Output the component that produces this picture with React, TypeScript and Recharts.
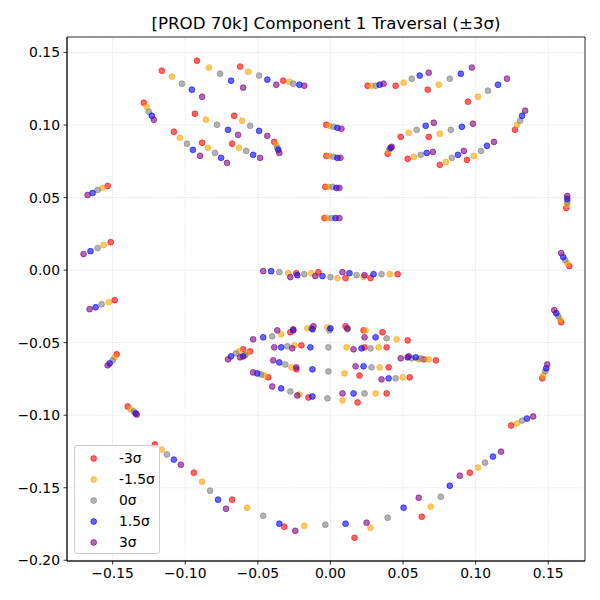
import { ScatterChart, Scatter, XAxis, YAxis, CartesianGrid, Legend, ReferenceArea } from 'recharts'

type Pt = [number, number]

const sigmaLabels = ['-3σ', '-1.5σ', '0σ', '1.5σ', '3σ']
const sigmaColors = ['#ff0000', '#ffa500', '#808080', '#0000ff', '#800080']

const xTicks = [-0.15, -0.1, -0.05, 0, 0.05, 0.1, 0.15]
const yTicks = [-0.2, -0.15, -0.1, -0.05, 0, 0.05, 0.1, 0.15]
const xDomain: [number, number] = [-0.1814, 0.1753]
const yDomain: [number, number] = [-0.2005, 0.1607]

// landmark order: brows, eyes, nose, jaw, mouth
const minus3: Pt[] = [
  [-0.1285, 0.1154], [-0.1161, 0.1375], [-0.0919, 0.1444], [-0.0622, 0.1403], [-0.0325, 0.1306],
  [0.0256, 0.1271], [0.0449, 0.1271], [0.067, 0.1244], [0.0947, 0.1161], [0.1271, 0.0967],
  [-0.1078, 0.0954], [-0.0933, 0.1078], [-0.0663, 0.1064], [-0.0387, 0.0884], [-0.0677, 0.0871], [-0.0884, 0.0878],
  [0.0394, 0.0802], [0.0484, 0.0919], [0.0677, 0.0919], [0.094, 0.076], [0.0753, 0.0726], [0.0532, 0.0767],
  [-0.0028, 0.1002], [-0.0028, 0.0788], [-0.0035, 0.0574], [-0.0041, 0.0359],
  [-0.0235, -0.0021], [-0.0083, -0.0014], [0.0104, -0.0055], [0.0276, -0.0055], [0.0463, -0.0028],
  [-0.1534, 0.058], [-0.1513, 0.0193], [-0.1486, -0.0207], [-0.1472, -0.058], [-0.1396, -0.094],
  [-0.1209, -0.1202], [-0.094, -0.1396], [-0.0677, -0.1582], [-0.0318, -0.1769], [0.0166, -0.1845],
  [0.0629, -0.17], [0.096, -0.1396], [0.1244, -0.1071], [0.1458, -0.0746], [0.1589, -0.0359],
  [0.1645, 0.0028], [0.1624, 0.0428],
  [-0.0601, -0.0546], [-0.0553, -0.056], [-0.0276, -0.0428], [0.0104, -0.0387], [0.0228, -0.0415],
  [0.0359, -0.0428], [0.0532, -0.0484], [-0.02, -0.0518], [0.0235, -0.0532], [0.0387, -0.0532],
  [-0.0235, -0.0684], [0.02, -0.0726], [0.0401, -0.067], [0.0546, -0.0739], [-0.0428, -0.0739],
  [-0.0152, -0.0878], [0.0187, -0.0912], [0.0387, -0.085], [0.0643, -0.0615], [0.0726, -0.0622],
]

const minus15: Pt[] = [
  [-0.1265, 0.1126], [-0.1092, 0.1334], [-0.0836, 0.1396], [-0.0567, 0.1368], [-0.0283, 0.1299],
  [0.0283, 0.1271], [0.0504, 0.1292], [0.0746, 0.1278], [0.1016, 0.1195], [0.1285, 0.1002],
  [-0.1037, 0.0912], [-0.0857, 0.1037], [-0.0608, 0.103], [-0.0373, 0.0864], [-0.0629, 0.0843], [-0.0843, 0.0843],
  [0.0401, 0.0822], [0.0539, 0.0947], [0.0753, 0.094], [0.0988, 0.0788], [0.0795, 0.0746], [0.0574, 0.0781],
  [-0.0007, 0.0995], [-0.0007, 0.0788], [-0.0014, 0.0574], [-0.0021, 0.0359],
  [-0.029, -0.0021], [-0.0131, -0.0021], [0.0048, -0.0055], [0.0228, -0.0048], [0.0408, -0.0028],
  [-0.1569, 0.0567], [-0.1562, 0.0173], [-0.1527, -0.0221], [-0.1486, -0.0601], [-0.1375, -0.096],
  [-0.1161, -0.1237], [-0.0884, -0.1458], [-0.0574, -0.1638], [-0.018, -0.1762], [0.0276, -0.1776],
  [0.0691, -0.1631], [0.1016, -0.1361], [0.1285, -0.1057], [0.1465, -0.0726], [0.1582, -0.0339],
  [0.1631, 0.0048], [0.1631, 0.0449],
  [-0.0629, -0.056], [-0.0574, -0.0574], [-0.0339, -0.0442], [-0.0159, -0.0401], [-0.0021, -0.0394],
  [0.0242, -0.0415], [0.0456, -0.0477], [-0.0249, -0.0518], [0.0111, -0.0532], [0.0332, -0.0532],
  [-0.0269, -0.067], [0.0097, -0.0712], [0.0339, -0.067], [0.0498, -0.0739], [-0.0456, -0.0726],
  [-0.0214, -0.0857], [0.0083, -0.0898], [0.0311, -0.085], [0.0677, -0.0615], [0.0608, -0.0615],
]

const zero: Pt[] = [
  [-0.1251, 0.1092], [-0.1023, 0.1285], [-0.076, 0.1354], [-0.0491, 0.1341], [-0.0256, 0.1285],
  [0.0311, 0.1271], [0.056, 0.132], [0.0822, 0.132], [0.1085, 0.1237], [0.1306, 0.103],
  [-0.0988, 0.0871], [-0.0781, 0.1002], [-0.0553, 0.0995], [-0.0366, 0.0843], [-0.058, 0.0822], [-0.0795, 0.0808],
  [0.0408, 0.0836], [0.0594, 0.0967], [0.0829, 0.0967], [0.1037, 0.0822], [0.0836, 0.0774], [0.0622, 0.0795],
  [0.0021, 0.0988], [0.0021, 0.0781], [0.0014, 0.0574], [0.0007, 0.0359],
  [-0.0352, -0.0014], [-0.018, -0.0028], [0.0, -0.0048], [0.018, -0.0035], [0.0352, -0.0028],
  [-0.1603, 0.0553], [-0.1603, 0.0152], [-0.1576, -0.0235], [-0.15, -0.0622], [-0.1354, -0.0974],
  [-0.1126, -0.1271], [-0.0829, -0.152], [-0.0463, -0.1693], [-0.0035, -0.1755], [0.0394, -0.1707],
  [0.076, -0.1562], [0.1064, -0.1327], [0.132, -0.1037], [0.1479, -0.0698], [0.1569, -0.0318],
  [0.1617, 0.0069], [0.1631, 0.047],
  [-0.065, -0.0574], [-0.0587, -0.0587], [-0.0401, -0.0456], [-0.0131, -0.0401], [-0.0007, -0.0415],
  [0.0117, -0.0408], [0.0387, -0.047], [-0.0297, -0.0525], [-0.0014, -0.0532], [0.0276, -0.0539],
  [-0.0311, -0.065], [-0.0014, -0.0698], [0.0283, -0.067], [0.0449, -0.0746], [-0.0477, -0.0719],
  [-0.0276, -0.0836], [-0.0021, -0.0884], [0.0235, -0.085], [0.0622, -0.0608], [0.056, -0.0608],
]

const plus15: Pt[] = [
  [-0.123, 0.1064], [-0.0954, 0.1244], [-0.0684, 0.1306], [-0.0435, 0.1313], [-0.0214, 0.1278],
  [0.0339, 0.1278], [0.0615, 0.1341], [0.0898, 0.1354], [0.1154, 0.1278], [0.132, 0.1064],
  [-0.0947, 0.0829], [-0.0705, 0.0967], [-0.0491, 0.096], [-0.0359, 0.0829], [-0.0532, 0.0795], [-0.0753, 0.0774],
  [0.0415, 0.0843], [0.0656, 0.0995], [0.0905, 0.0988], [0.1078, 0.0857], [0.0878, 0.0795], [0.0663, 0.0808],
  [0.0048, 0.0981], [0.0048, 0.0774], [0.0041, 0.0567], [0.0035, 0.0359],
  [-0.0408, -0.0007], [-0.0228, -0.0035], [-0.0055, -0.0041], [0.0131, -0.0021], [0.0297, -0.0028],
  [-0.1638, 0.0532], [-0.1652, 0.0131], [-0.1617, -0.0256], [-0.152, -0.0643], [-0.1341, -0.0988],
  [-0.1078, -0.1306], [-0.0774, -0.1582], [-0.0352, -0.1748], [0.0104, -0.1748], [0.0504, -0.1638],
  [0.0822, -0.1486], [0.1119, -0.1285], [0.1354, -0.1023], [0.1486, -0.0677], [0.1555, -0.0297],
  [0.1603, 0.009], [0.1631, 0.0491],
  [-0.0684, -0.0594], [-0.0601, -0.0594], [-0.0463, -0.0463], [-0.0256, -0.0415], [-0.0124, -0.0408],
  [0.0, -0.0401], [0.0311, -0.0463], [-0.0339, -0.0532], [-0.0138, -0.0532], [0.0214, -0.0539],
  [-0.0352, -0.0636], [-0.0124, -0.0684], [0.0228, -0.0663], [0.0401, -0.0746], [-0.0504, -0.0712],
  [-0.0339, -0.0815], [-0.0124, -0.0871], [0.0159, -0.085], [0.0587, -0.0601], [0.0532, -0.0601],
]

const plus3: Pt[] = [
  [-0.1216, 0.1037], [-0.0884, 0.1195], [-0.0601, 0.1258], [-0.0373, 0.1278], [-0.018, 0.1271],
  [0.0366, 0.1285], [0.0677, 0.1361], [0.0974, 0.1396], [0.1216, 0.132], [0.1341, 0.1099],
  [-0.0898, 0.0788], [-0.0636, 0.0933], [-0.0435, 0.0926], [-0.0352, 0.0808], [-0.0484, 0.0774], [-0.0712, 0.0739],
  [0.0422, 0.085], [0.0712, 0.1016], [0.0981, 0.1009], [0.1126, 0.0884], [0.0919, 0.0822], [0.0705, 0.0815],
  [0.0076, 0.0974], [0.0069, 0.0774], [0.0062, 0.0567], [0.0062, 0.0359],
  [-0.0463, -0.0007], [-0.0276, -0.0048], [-0.0104, -0.0041], [0.0083, -0.0014], [0.0235, -0.0035],
  [-0.1672, 0.0518], [-0.17, 0.0111], [-0.1658, -0.0269], [-0.1534, -0.0656], [-0.1334, -0.0995],
  [-0.103, -0.1341], [-0.0719, -0.1645], [-0.0242, -0.1797], [0.0249, -0.1741], [0.0608, -0.1569],
  [0.0891, -0.1417], [0.1175, -0.1251], [0.1396, -0.1009], [0.1493, -0.065], [0.1541, -0.0276],
  [0.1589, 0.0117], [0.1631, 0.0511],
  [-0.0705, -0.0615], [-0.0622, -0.0601], [-0.0532, -0.0477], [-0.0366, -0.0415], [-0.0256, -0.0408],
  [-0.0117, -0.0387], [0.0117, -0.0401], [0.0235, -0.0463], [-0.0387, -0.0532], [-0.0263, -0.0539],
  [0.0159, -0.0546], [-0.0394, -0.0622], [-0.0235, -0.067], [0.0173, -0.0663], [0.0352, -0.0753],
  [-0.0532, -0.0705], [-0.0401, -0.0802], [-0.0228, -0.0864], [0.0083, -0.085], [0.0539, -0.0594],
  [0.0484, -0.0608],
]

const sigmaSeries = [minus3, minus15, zero, plus15, plus3]

const FONT = '"DejaVu Sans", sans-serif'
const tickFmt = (v: number) => v.toFixed(2).replace('-', '\u2212')

const makeDot = (color: string) => (props: any) => (
  <circle
    cx={props.cx}
    cy={props.cy}
    r={2.9}
    fill={color}
    fillOpacity={0.6}
    stroke={color}
    strokeOpacity={0.6}
    strokeWidth={1}
  />
)

function SigmaLegend() {
  return (
    <div
      style={{
        width: 86,
        height: 109,
        boxSizing: 'border-box',
        border: '1px solid #cccccc',
        borderRadius: 3,
        background: 'rgba(255,255,255,0.8)',
        paddingTop: 2,
        fontFamily: FONT,
        fontSize: 13.9,
      }}
    >
      {sigmaLabels.map((label, i) => (
        <div key={label} style={{ display: 'flex', alignItems: 'center', height: 21 }}>
          <svg width={44} height={21} style={{ flex: 'none' }}>
            <circle
              cx={18.7}
              cy={10.5}
              r={2.9}
              fill={sigmaColors[i]}
              fillOpacity={0.6}
              stroke={sigmaColors[i]}
              strokeOpacity={0.6}
              strokeWidth={1}
            />
          </svg>
          <span style={{ lineHeight: 1 }}>{label}</span>
        </div>
      ))}
    </div>
  )
}

export default function App() {
  return (
    <div style={{ position: 'absolute', left: 0, top: 0, width: 600, height: 600, background: '#fff', fontFamily: FONT }}>
      <div
        style={{
          position: 'absolute',
          left: 67,
          width: 518,
          top: 15,
          textAlign: 'center',
          fontSize: 16.7,
          lineHeight: 1,
          color: '#000',
          zIndex: 2,
        }}
      >
        [PROD 70k] Component 1 Traversal (±3σ)
      </div>
      <ScatterChart width={600} height={600} margin={{ top: 37, right: 15, bottom: 9, left: 12 }}>
        <CartesianGrid
          stroke="#b0b0b0"
          strokeOpacity={0.6}
          strokeWidth={0.8}
          strokeDasharray="0.8 1.3"
        />
        <XAxis
          type="number"
          dataKey="x"
          domain={xDomain}
          ticks={xTicks}
          allowDataOverflow
          height={30}
          tickSize={3.5}
          tickMargin={3.5}
          tickFormatter={tickFmt}
          tick={{ fill: '#000', fontSize: 13.9, fontFamily: FONT }}
          tickLine={{ stroke: '#000', strokeWidth: 0.8 }}
          axisLine={{ stroke: '#000', strokeWidth: 0.8 }}
        />
        <YAxis
          type="number"
          dataKey="y"
          domain={yDomain}
          ticks={yTicks}
          allowDataOverflow
          width={55}
          tickSize={3.5}
          tickMargin={3.5}
          tickFormatter={tickFmt}
          tick={{ fill: '#000', fontSize: 13.9, fontFamily: FONT }}
          tickLine={{ stroke: '#000', strokeWidth: 0.8 }}
          axisLine={{ stroke: '#000', strokeWidth: 0.8 }}
        />
        {sigmaSeries.map((pts, i) => (
          <Scatter
            key={sigmaLabels[i]}
            name={sigmaLabels[i]}
            data={pts.map(([x, y]) => ({ x, y }))}
            fill={sigmaColors[i]}
            shape={makeDot(sigmaColors[i])}
            isAnimationActive={false}
          />
        ))}
        <ReferenceArea
          x1={xDomain[0]}
          x2={xDomain[1]}
          y1={yDomain[0]}
          y2={yDomain[1]}
          fill="none"
          fillOpacity={0}
          stroke="#000"
          strokeWidth={0.8}
          ifOverflow="visible"
        />
        <Legend
          layout="vertical"
          align="center"
          verticalAlign="middle"
          content={() => <SigmaLegend />}
          wrapperStyle={{ left: 74, top: 445, width: 86, height: 109 }}
        />
      </ScatterChart>
    </div>
  )
}
